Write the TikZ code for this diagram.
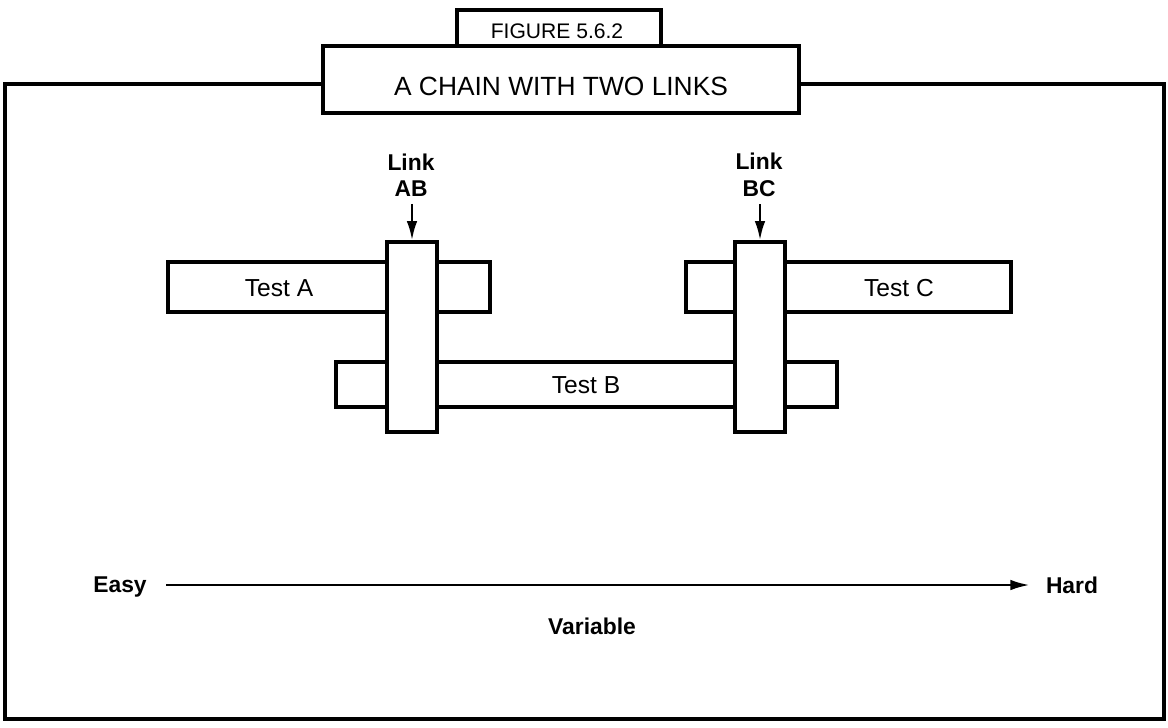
\documentclass[tikz,border=0pt]{standalone}
\usepackage{fontspec}
\setmainfont{Liberation Sans}
\usetikzlibrary{arrows.meta}

\tikzset{
  linkbar/.style={draw,fill=white,minimum width=1cm,minimum height=3.8cm,inner sep=0pt},
  plain/.style={font=\fontsize{14}{16}\selectfont},
  boldlab/.style={font=\fontsize{13}{15}\selectfont\bfseries,align=center},
}

\begin{document}
\begin{tikzpicture}[x=0.02cm,y=-0.02cm,line width=1.8pt,>={Latex[length=11pt,width=6pt]}]
	\useasboundingbox (0,0) rectangle (1168,727);

	% frame and title
	\draw (5,84) rectangle (1164,719);
	\draw (457,46) -- (457,10) -- (661,10) -- (661,46);
	\draw[fill=white] (323,46) rectangle (799,113);
	\node[font=\fontsize{12}{14}\selectfont] (fig) at (557,31) {FIGURE 5.6.2};
	\node[font=\fontsize{15}{17}\selectfont] (title) at (561,86) {A CHAIN WITH TWO LINKS};

	% tests
	\foreach \l / \t / \r / \b in {168/262/490/312, 336/362/837/407, 686/262/1011/312} { \draw[fill=white] (\l,\t) rectangle (\r,\b);}
	\node[plain] (testa) at (279,288) {Test A};
	\node[plain] (testb) at (586,385) {Test B};
	\node[plain] (testc) at (899,288) {Test C};

	% links
	\node[linkbar] (ab) at (412,337) {};
	\node[linkbar] (bc) at (760,337) {};
	\node[boldlab] (labab) at (411,175) {Link\\AB};
	\node[boldlab] (labbc) at (759,175) {Link\\BC};
	\foreach \n in {ab,bc} { \draw[->,line width=1.5pt] (lab\n.south -| \n.north) -- (\n.north);}

	% scale
	\node[boldlab,text depth=0pt] (easy) at (120,585) {Easy};
	\node[boldlab,text depth=0pt] (hard) at (1072,585) {Hard};
	\node[boldlab] (var) at (592,626) {Variable};
	\draw[->,line width=1.5pt,shorten <=7pt,shorten >=5pt] (easy.east) -- (easy.east -| hard.west);
\end{tikzpicture}
\end{document}
